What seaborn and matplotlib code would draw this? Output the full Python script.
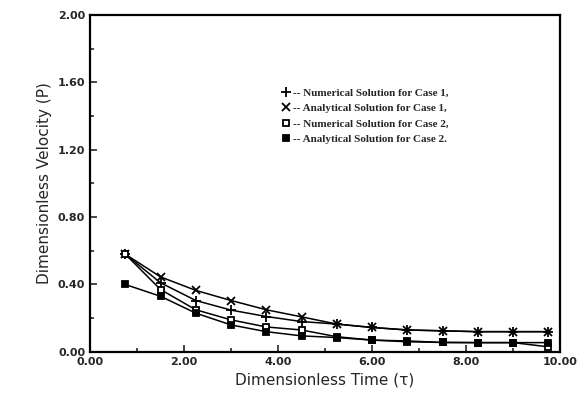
import numpy as np
import pandas as pd
import matplotlib
matplotlib.use("Agg")
import matplotlib.pyplot as plt
from matplotlib.lines import Line2D
from matplotlib.ticker import MultipleLocator, FormatStrFormatter
import seaborn as sns

# Values
tau = [0.75, 1.5, 2.25, 3.0, 3.75, 4.5, 5.25, 6.0, 6.75, 7.5, 8.25, 9.0, 9.75]
num_case1 = [0.58, 0.41, 0.305, 0.248, 0.21, 0.18, 0.165, 0.145, 0.13, 0.125, 0.12, 0.12, 0.12]
ana_case1 = [0.58, 0.445, 0.365, 0.305, 0.25, 0.208, 0.165, 0.145, 0.13, 0.125, 0.12, 0.12, 0.12]
num_case2 = [0.58, 0.37, 0.25, 0.19, 0.148, 0.13, 0.09, 0.07, 0.065, 0.056, 0.055, 0.055, 0.03]
ana_case2 = [0.40, 0.33, 0.23, 0.16, 0.12, 0.095, 0.085, 0.07, 0.06, 0.056, 0.055, 0.055, 0.055]

labels = ["-- Numerical Solution for Case 1,",
          "-- Analytical Solution for Case 1,",
          "-- Numerical Solution for Case 2,",
          "-- Analytical Solution for Case 2."]

sns.set_style("ticks")
plt.rcParams['font.family'] = ['DejaVu Sans']

fig = plt.figure(figsize=(5.81, 4.04), dpi=100)
ax = fig.add_axes([0.155, 0.129, 0.809, 0.834])

styles = [
    dict(marker="+", markersize=7, markeredgewidth=1.3, markerfacecolor="black"),
    dict(marker="x", markersize=5.5, markeredgewidth=1.3, markerfacecolor="black"),
    dict(marker="s", markersize=5, markeredgewidth=1.3, markerfacecolor="white"),
    dict(marker="s", markersize=5, markeredgewidth=1.3, markerfacecolor="black"),
]
series = [num_case1, ana_case1, num_case2, ana_case2]

for vals, st in zip(series, styles):
    sns.lineplot(x=tau, y=vals, ax=ax, color="black", linewidth=1.1,
                 markeredgecolor="black", **st)

ax.set_xlim(0, 10)
ax.set_ylim(0, 2.0)
ax.xaxis.set_major_locator(MultipleLocator(2))
ax.xaxis.set_minor_locator(MultipleLocator(1))
ax.yaxis.set_major_locator(MultipleLocator(0.4))
ax.yaxis.set_minor_locator(MultipleLocator(0.2))
ax.xaxis.set_major_formatter(FormatStrFormatter("%.2f"))
ax.yaxis.set_major_formatter(FormatStrFormatter("%.2f"))
ax.tick_params(which="both", direction="in", top=False, right=False, width=1.2)
ax.tick_params(which="major", length=5, labelsize=8)
ax.tick_params(which="minor", length=3)
for lab in ax.get_xticklabels() + ax.get_yticklabels():
    lab.set_fontweight("bold")
for sp in ax.spines.values():
    sp.set_visible(True)
    sp.set_linewidth(1.6)
    sp.set_color("black")

ax.set_xlabel("Dimensionless Time (τ)", fontsize=11)
ax.set_ylabel("Dimensionless Velocity (P)", fontsize=11)

handles = [Line2D([], [], linestyle="none", color="black", markeredgecolor="black", **st)
           for st in styles]
leg = ax.legend(handles, labels, loc="center", bbox_to_anchor=(0.585, 0.70),
                frameon=False, handlelength=0.8, handletextpad=0.3,
                labelspacing=0.5, prop={"size": 8, "weight": "bold",
                                        "family": ["Liberation Serif"]})

fig.savefig("out.png", dpi=100)
